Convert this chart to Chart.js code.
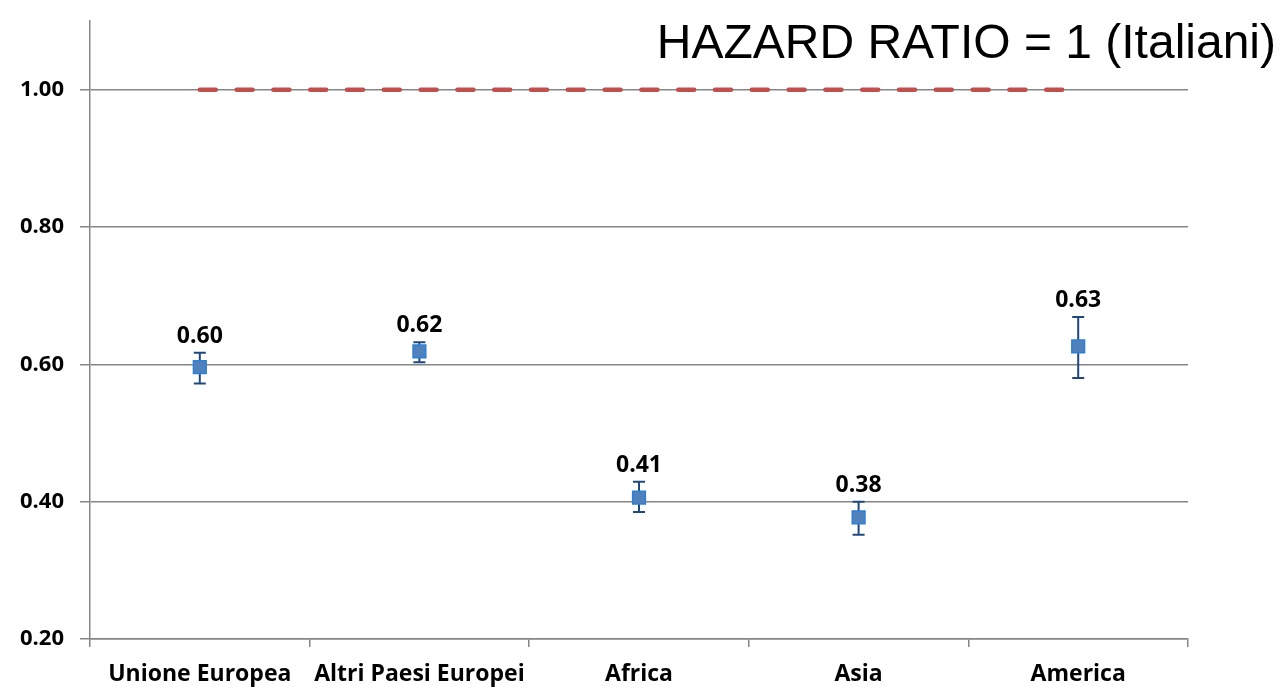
<!DOCTYPE html>
<html>
<head>
<meta charset="utf-8">
<title>Hazard ratio</title>
<script src="https://cdn.jsdelivr.net/npm/chart.js@4"></script>
<style>
  html, body { margin: 0; padding: 0; background: #fff; }
  #wrap { width: 1280px; height: 687px; }
</style>
</head>
<body>
<div id="wrap"><canvas id="myChart" width="1280" height="687"></canvas></div>
<script>
// data
const categories = ['Unione Europea', 'Altri Paesi Europei', 'Africa', 'Asia', 'America'];
const hazardRatio = [0.596, 0.619, 0.406, 0.377, 0.626];
const ciLow = [0.572, 0.603, 0.385, 0.352, 0.580];
const ciHigh = [0.617, 0.632, 0.429, 0.400, 0.669];
const referenceValue = 1.0;
const yTicks = [0.20, 0.40, 0.60, 0.80, 1.00];
const titleText = 'HAZARD RATIO = 1 (Italiani)';

const labelFont = 'bold 23px "Open Sans"';

// error bars under the markers, value labels + title on top
const errorBars = {
    id: 'errorBars',
    beforeDatasetsDraw(chart) {
        const { ctx, scales: { x, y } } = chart;
        ctx.save();
        ctx.strokeStyle = '#1F497D';
        ctx.lineWidth = 2;
        categories.forEach((c, i) => {
            const px = x.getPixelForValue(i);
            const lo = y.getPixelForValue(ciLow[i]);
            const hi = y.getPixelForValue(ciHigh[i]);
            ctx.beginPath();
            ctx.moveTo(px, lo); ctx.lineTo(px, hi);
            ctx.moveTo(px - 6, lo); ctx.lineTo(px + 6, lo);
            ctx.moveTo(px - 6, hi); ctx.lineTo(px + 6, hi);
            ctx.stroke();
        });
        ctx.restore();
    },
    afterDraw(chart) {
        const { ctx, scales: { x, y } } = chart;
        ctx.save();
        ctx.fillStyle = '#000';
        ctx.font = labelFont;
        ctx.textAlign = 'center';
        ctx.textBaseline = 'alphabetic';
        hazardRatio.forEach((v, i) => {
            ctx.fillText(v.toFixed(2), x.getPixelForValue(i), y.getPixelForValue(ciHigh[i]) - 10);
        });
        ctx.font = '48px "Liberation Sans"';
        ctx.textAlign = 'right';
        ctx.fillText(titleText, 1276, 58);
        ctx.restore();
    }
};

const ctx = document.getElementById('myChart');
const myChart = new Chart(ctx, {
    type: 'line',
    data: {
        labels: categories,
        datasets: [{
            data: categories.map(() => referenceValue),
            borderColor: '#C0504D',
            borderWidth: 4.5,
            borderDash: [16, 20.8],
            borderCapStyle: 'round',
            pointRadius: 0,
            fill: false
        }, {
            data: hazardRatio,
            showLine: false,
            pointStyle: 'rect',
            pointRadius: 9,
            pointBackgroundColor: '#4F81BD',
            pointBorderColor: '#2F7FD6',
            pointBorderWidth: 1.5
        }]
    },
    options: {
        responsive: false,
        animation: false,
        layout: { padding: { top: 21, right: 92, left: 0, bottom: 0 } },
        plugins: {
            legend: { display: false },
            tooltip: { enabled: false }
        },
        scales: {
            x: {
                offset: true,
                afterFit: (s) => { s.height = 48; },
                grid: {
                    offset: true,
                    drawOnChartArea: false,
                    drawTicks: true,
                    tickLength: 8,
                    color: '#868686',
                    lineWidth: 1.5
                },
                border: { color: '#868686', width: 1.5 },
                ticks: {
                    color: '#000',
                    font: { family: 'Open Sans', size: 23, weight: 'bold' },
                    padding: 14,
                    maxRotation: 0,
                    autoSkip: false
                }
            },
            y: {
                min: 0.2,
                max: 1.1,
                afterFit: (s) => { s.width = 90; s.paddingTop = 0; s.paddingBottom = 0; },
                afterBuildTicks: (s) => { s.ticks = yTicks.map(v => ({ value: v })); },
                grid: {
                    color: '#868686',
                    lineWidth: 1.5,
                    tickLength: 10
                },
                border: { color: '#868686', width: 1.5 },
                ticks: {
                    color: '#000',
                    font: { family: 'Open Sans', size: 22, weight: 'bold' },
                    padding: 16,
                    callback: (v) => Number(v).toFixed(2)
                }
            }
        }
    },
    plugins: [errorBars]
});
</script>
</body>
</html>
